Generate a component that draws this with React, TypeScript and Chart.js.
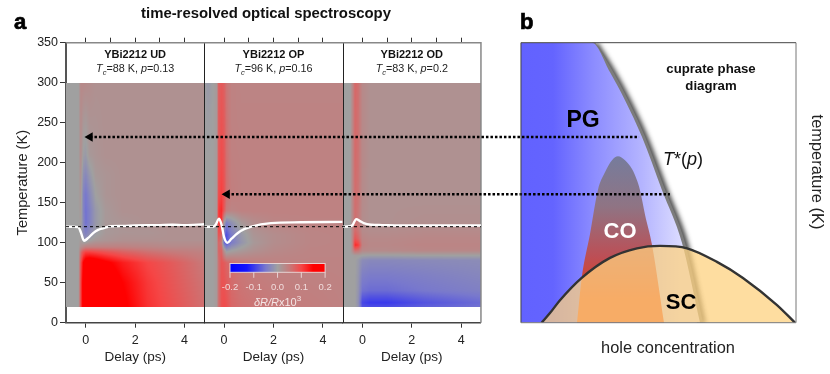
import React, { useEffect, useRef } from "react";
import { Chart, registerables } from "chart.js";

Chart.register(...registerables);

const FONT = '"Liberation Sans"';
const delayTicks = [0, 1, 2, 3, 4];
const tempTicks = [0, 50, 100, 150, 200, 250, 300, 350];
const colorbarTicks = [-0.2, -0.1, 0, 0.1, 0.2];
const colorStops: [number, number, number, number][] = [
  [-0.2, 0, 0, 255], [-0.13, 20, 20, 255], [-0.05, 120, 120, 205], [0, 160, 160, 160],
  [0.05, 198, 122, 122], [0.1, 245, 70, 70], [0.15, 255, 0, 0], [0.2, 255, 0, 0],
];

const udDelays = [-0.8, -0.3, -0.2, -0.1, 0, 0.15, 0.4, 0.8, 1.5, 2.5, 3.5, 4.8];
const udTemps = [20, 50, 75, 88, 95, 103, 112, 125, 140, 160, 185, 210, 300];
const udValues = [
  [0, 0, 0.1, 0.17, 0.2, 0.22, 0.22, 0.2, 0.16, 0.115, 0.09, 0.06],
  [0, 0, 0.1, 0.17, 0.2, 0.22, 0.21, 0.19, 0.15, 0.11, 0.085, 0.055],
  [0, 0, 0.09, 0.15, 0.18, 0.19, 0.18, 0.16, 0.13, 0.1, 0.08, 0.05],
  [0, 0, 0.06, 0.09, 0.105, 0.105, 0.1, 0.09, 0.075, 0.06, 0.05, 0.04],
  [0, 0, 0.02, 0.03, 0.04, 0.04, 0.04, 0.04, 0.04, 0.035, 0.03, 0.03],
  [0, 0, 0.005, -0.01, -0.015, 0, 0.01, 0.015, 0.02, 0.02, 0.02, 0.02],
  [0, 0, 0, -0.025, -0.04, -0.025, -0.005, 0.01, 0.015, 0.015, 0.02, 0.02],
  [0, 0, 0.005, -0.03, -0.055, -0.04, -0.01, 0.01, 0.015, 0.02, 0.02, 0.02],
  [0, 0, 0.01, -0.035, -0.055, -0.04, -0.01, 0.01, 0.02, 0.02, 0.02, 0.02],
  [0, 0, 0.015, -0.035, -0.05, -0.03, 0, 0.015, 0.02, 0.02, 0.02, 0.02],
  [0, 0, 0.02, -0.02, -0.03, -0.012, 0.01, 0.015, 0.02, 0.02, 0.02, 0.02],
  [0, 0, 0.025, -0.003, -0.008, 0.01, 0.015, 0.02, 0.02, 0.02, 0.02, 0.02],
  [0, 0, 0.03, 0.03, 0.028, 0.025, 0.02, 0.02, 0.02, 0.02, 0.02, 0.02],
];

const opDelays = [-0.8, -0.65, -0.45, -0.3, -0.22, -0.1, 0, 0.1, 0.3, 0.7, 1.2, 2, 3.5, 4.8];
const opTemps = [20, 75, 90, 100, 110, 125, 140, 160, 200, 250, 300];
const opValues = [
  [0, 0, 0, 0.01, 0.06, 0.09, 0.095, 0.09, 0.07, 0.06, 0.055, 0.05, 0.045, 0.04],
  [0, 0, 0, 0.01, 0.06, 0.085, 0.08, 0.07, 0.06, 0.05, 0.045, 0.04, 0.038, 0.038],
  [0, 0, 0, 0.01, 0.07, 0.07, 0.02, -0.01, 0, 0.01, 0.02, 0.03, 0.037, 0.037],
  [0, 0, 0, 0.01, 0.07, 0.05, -0.06, -0.08, -0.045, -0.015, 0.01, 0.025, 0.035, 0.037],
  [0, 0, 0, 0.01, 0.09, 0.07, -0.05, -0.08, -0.045, -0.01, 0.015, 0.025, 0.035, 0.037],
  [0, 0, 0, 0.01, 0.11, 0.11, 0, -0.04, -0.02, 0.01, 0.025, 0.035, 0.038, 0.038],
  [0, 0, 0, 0.01, 0.11, 0.12, 0.08, 0.045, 0.035, 0.04, 0.04, 0.04, 0.04, 0.04],
  [0, 0, 0, 0.01, 0.095, 0.105, 0.09, 0.06, 0.045, 0.04, 0.04, 0.04, 0.04, 0.04],
  [0, 0, 0, 0.01, 0.085, 0.095, 0.085, 0.06, 0.042, 0.04, 0.04, 0.04, 0.04, 0.04],
  [0, -0.003, 0, 0.01, 0.08, 0.088, 0.08, 0.058, 0.04, 0.038, 0.038, 0.038, 0.038, 0.038],
  [0, -0.01, 0, 0.01, 0.075, 0.082, 0.075, 0.055, 0.04, 0.037, 0.037, 0.037, 0.037, 0.037],
];

const odDelays = [-0.8, -0.5, -0.42, -0.3, -0.17, 0, 0.3, 1, 2.5, 4.8];
const odTemps = [20, 25, 40, 60, 78, 84, 90, 97, 105, 115, 125, 150, 200, 300];
const odValues = [
  [0, 0, 0, 0, -0.015, -0.08, -0.085, -0.085, -0.07, -0.055],
  [0, 0, 0, 0, -0.02, -0.09, -0.1, -0.1, -0.08, -0.06],
  [0, 0, 0, 0, -0.015, -0.055, -0.06, -0.06, -0.05, -0.04],
  [0, 0, 0, 0, -0.012, -0.04, -0.045, -0.045, -0.04, -0.032],
  [0, 0, 0, 0, -0.008, -0.025, -0.03, -0.03, -0.028, -0.025],
  [0, 0, 0, 0.005, 0.005, 0, -0.003, -0.003, 0, 0],
  [0, 0, 0.02, 0.06, 0.055, 0.03, 0.028, 0.028, 0.032, 0.032],
  [0, 0, 0.02, 0.12, 0.11, 0.04, 0.032, 0.032, 0.036, 0.036],
  [0, 0, 0.025, 0.085, 0.07, 0.035, 0.03, 0.03, 0.033, 0.033],
  [0, 0, 0.025, 0.065, 0.055, 0.028, 0.025, 0.025, 0.028, 0.028],
  [0, 0, 0.025, 0.06, 0.05, 0.025, 0.02, 0.02, 0.023, 0.023],
  [0, 0, 0.025, 0.062, 0.055, 0.028, 0.02, 0.02, 0.02, 0.02],
  [0, 0, 0.025, 0.065, 0.058, 0.03, 0.02, 0.02, 0.02, 0.02],
  [0, 0, 0.025, 0.068, 0.06, 0.03, 0.02, 0.02, 0.02, 0.02],
];

const udCurveDelay = [-0.8, -0.5, -0.3, -0.2, -0.07, 0.1, 0.3, 0.5, 0.7, 1, 1.5, 2, 3, 3.5, 4, 4.8];
const udCurve = [120, 120, 119.5, 113, 102.5, 106, 112, 116, 118, 120.5, 121, 121.5, 122, 122.5, 122, 123];
const opCurveDelay = [-0.8, -0.45, -0.35, -0.2, -0.1, 0, 0.13, 0.3, 0.67, 1.1, 1.9, 3.1, 4.8];
const opCurve = [120, 120, 122, 130, 122, 107, 100, 105, 114.5, 120, 124.5, 125.5, 126];
const odCurveDelay = [-0.8, -0.5, -0.4, -0.25, -0.1, 0.05, 0.35, 0.8, 1.5, 3, 4.8];
const odCurve = [120, 120.5, 122, 129.5, 127, 124.5, 122.5, 122, 121.5, 121.5, 121.5];
const baselineDelay = [-0.8, 16];
const baselineTemp = [120, 120];

const arrowUpperDelay = [0.17, 22.4];
const arrowUpperTemp = [232, 232];
const arrowLowerDelay = [0.12, 18.05];
const arrowLowerTemp = [160.5, 160.5];

const tStarP = [0.0937, 0.1094, 0.1224, 0.1372, 0.1545, 0.1719, 0.1876];
const tStarT = [350, 313, 278, 232, 166, 100, 0];
const coP = [0.0807, 0.0848, 0.092, 0.0989, 0.105, 0.1111, 0.1163, 0.1224, 0.1285, 0.1328, 0.1354, 0.1398, 0.1459, 0.1563];
const coT = [0, 56, 111, 166, 188, 203, 208, 203, 192, 178, 166, 135, 97, 0];
const scP = [0.05, 0.0572, 0.0659, 0.0848, 0.1094, 0.1328, 0.1528, 0.1763, 0.2023, 0.2249, 0.2545, 0.2701];
const scT = [0, 12, 28, 56, 81, 93, 96, 93, 76, 56, 22, 0];

const pts = (xs: number[], ys: number[]) => xs.map((x, i) => ({ x, y: ys[i] }));

function colorFor(v: number): [number, number, number] {
  if (v <= colorStops[0][0]) return [colorStops[0][1], colorStops[0][2], colorStops[0][3]];
  for (let i = 1; i < colorStops.length; i++) {
    const a = colorStops[i - 1], b = colorStops[i];
    if (v <= b[0]) {
      const t = (v - a[0]) / (b[0] - a[0]);
      return [a[1] + (b[1] - a[1]) * t, a[2] + (b[2] - a[2]) * t, a[3] + (b[3] - a[3]) * t];
    }
  }
  const l = colorStops[colorStops.length - 1];
  return [l[1], l[2], l[3]];
}

function locate(arr: number[], v: number): [number, number] {
  let i = 0;
  while (i < arr.length - 2 && v > arr[i + 1]) i++;
  const t = Math.min(1, Math.max(0, (v - arr[i]) / (arr[i + 1] - arr[i])));
  return [i, t];
}

function paintHeat(chart: any, xId: string, xs: number[], ts: number[], vals: number[][]) {
  const sx = chart.scales[xId], sy = chart.scales.y, ctx = chart.ctx;
  const x0 = Math.round(sx.left), x1 = Math.round(sx.right);
  const y0 = Math.round(sy.getPixelForValue(300)), y1 = Math.round(sy.getPixelForValue(19.5));
  const img = ctx.createImageData(x1 - x0, y1 - y0);
  for (let py = y0; py < y1; py++) {
    const [r, tr] = locate(ts, sy.getValueForPixel(py + 0.5));
    for (let px = x0; px < x1; px++) {
      const [c, tc] = locate(xs, sx.getValueForPixel(px + 0.5));
      const v = (vals[r][c] * (1 - tc) + vals[r][c + 1] * tc) * (1 - tr) +
        (vals[r + 1][c] * (1 - tc) + vals[r + 1][c + 1] * tc) * tr;
      const [R, G, B] = colorFor(v);
      const o = ((py - y0) * (x1 - x0) + (px - x0)) * 4;
      img.data[o] = R; img.data[o + 1] = G; img.data[o + 2] = B; img.data[o + 3] = 255;
    }
  }
  const off = document.createElement("canvas");
  off.width = x1 - x0; off.height = y1 - y0;
  off.getContext("2d")!.putImageData(img, 0, 0);
  ctx.drawImage(off, x0, y0);
}

type Run = { t: string; f: string; dy?: number };
function runs(ctx: any, items: Run[], cx: number, y: number, color: string) {
  ctx.fillStyle = color;
  ctx.textAlign = "left";
  ctx.textBaseline = "alphabetic";
  let w = 0;
  for (const r of items) { ctx.font = r.f; w += ctx.measureText(r.t).width; }
  let x = cx - w / 2;
  for (const r of items) {
    ctx.font = r.f;
    ctx.fillText(r.t, x, y + (r.dy || 0));
    x += ctx.measureText(r.t).width;
  }
}
function label(ctx: any, t: string, x: number, y: number, f: string, color: string) {
  ctx.font = f; ctx.fillStyle = color; ctx.textAlign = "center"; ctx.textBaseline = "middle";
  ctx.fillText(t, x, y);
}

const heatPlugin = {
  id: "heat",
  beforeDatasetsDraw(chart: any) {
    paintHeat(chart, "x1", udDelays, udTemps, udValues);
    paintHeat(chart, "x2", opDelays, opTemps, opValues);
    paintHeat(chart, "x3", odDelays, odTemps, odValues);
    const { ctx, scales } = chart;
    const y = scales.y;
    ctx.save();
    // colour bar, in panel 2 coordinates
    const bx0 = scales.x2.getPixelForValue(0.24), bx1 = scales.x2.getPixelForValue(4.09);
    const by0 = y.getPixelForValue(74), by1 = y.getPixelForValue(63);
    for (let px = Math.round(bx0); px < Math.round(bx1); px++) {
      const v = -0.2 + (0.4 * (px + 0.5 - bx0)) / (bx1 - bx0);
      const [r, g, b] = colorFor(v);
      ctx.fillStyle = `rgb(${r},${g},${b})`;
      ctx.fillRect(px, by0, 1, by1 - by0);
    }
    ctx.strokeStyle = "rgba(235,220,220,0.9)";
    ctx.lineWidth = 1;
    ctx.strokeRect(bx0, by0, bx1 - bx0, by1 - by0);
    for (const t of colorbarTicks) {
      const px = bx0 + ((t + 0.2) / 0.4) * (bx1 - bx0);
      ctx.beginPath(); ctx.moveTo(px, by1); ctx.lineTo(px, by1 + 5.5); ctx.stroke();
      label(ctx, t.toFixed(1), px, by1 + 15, `9.5px ${FONT}`, "#f0dcdc");
    }
    runs(ctx, [
      { t: "δR/R", f: `italic 11px ${FONT}` },
      { t: "x10", f: `11px ${FONT}` },
      { t: "3", f: `8px ${FONT}`, dy: -5 },
    ], (bx0 + bx1) / 2, by1 + 34, "#f4e6e6");
    // panel dividers and frame
    const top = y.getPixelForValue(350), bot = y.getPixelForValue(0);
    ctx.strokeStyle = "#222";
    ctx.lineWidth = 1;
    for (const id of ["x2", "x3"]) {
      const px = Math.round(scales[id].left) + 0.5;
      ctx.beginPath(); ctx.moveTo(px, top); ctx.lineTo(px, bot); ctx.stroke();
    }
    ctx.strokeStyle = "#888";
    ctx.lineWidth = 1.5;
    ctx.beginPath();
    ctx.moveTo(scales.x1.left, top);
    ctx.lineTo(scales.x3.right, top);
    ctx.lineTo(scales.x3.right, bot);
    ctx.stroke();
    ctx.restore();
  },
  beforeDatasetDraw(chart: any, args: any) {
    const ds = chart.data.datasets[args.index];
    if (ds.label === "T* band") {
      const c = chart.ctx;
      c.save();
      c.shadowColor = "rgba(40,40,40,0.95)";
      c.shadowBlur = 5;
      c.shadowOffsetX = 3;
      c.shadowOffsetY = 1;
    }
  },
  afterDatasetDraw(chart: any, args: any) {
    const ds = chart.data.datasets[args.index];
    if (ds.label === "T* band") chart.ctx.restore();
  },
  afterDatasetsDraw(chart: any) {
    const { ctx, scales } = chart;
    const xb = scales.xb, y = scales.y;
    ctx.save();
    ctx.lineWidth = 1;
    const L = xb.left, R = xb.right, T = y.getPixelForValue(350), B = y.getPixelForValue(0);
    ctx.strokeStyle = "#444";
    ctx.beginPath(); ctx.moveTo(L, B); ctx.lineTo(L, T); ctx.lineTo(R, T); ctx.stroke();
    ctx.strokeStyle = "#777";
    ctx.beginPath(); ctx.moveTo(R, T); ctx.lineTo(R, B); ctx.lineTo(L, B); ctx.stroke();

    label(ctx, "time-resolved optical spectroscopy", 266, 13.5, `bold 14.9px ${FONT}`, "#111");
    ctx.fillStyle = "#000"; ctx.strokeStyle = "#000"; ctx.lineWidth = 0.7;
    ctx.textAlign = "left"; ctx.textBaseline = "alphabetic";
    ctx.font = `bold 22px ${FONT}`;
    ctx.fillText("a", 14, 29); ctx.strokeText("a", 14, 29);
    ctx.fillText("b", 520, 29); ctx.strokeText("b", 520, 29);

    const heads: [string, string, string, string][] = [
      ["x1", "YBi2212 UD", "=88 K, ", "=0.13"],
      ["x2", "YBi2212 OP", "=96 K, ", "=0.16"],
      ["x3", "YBi2212 OD", "=83 K, ", "=0.2"],
    ];
    for (const [id, name, tc, p] of heads) {
      const cx = (scales[id].left + scales[id].right) / 2;
      label(ctx, name, cx, 55, `bold 11px ${FONT}`, "#111");
      runs(ctx, [
        { t: "T", f: `italic 10.8px ${FONT}` },
        { t: "c", f: `italic 7.5px ${FONT}`, dy: 2.5 },
        { t: tc, f: `10.8px ${FONT}` },
        { t: "p", f: `italic 10.8px ${FONT}` },
        { t: p, f: `10.8px ${FONT}` },
      ], cx, 72, "#222");
    }

    label(ctx, "PG", 583, 121, `bold 23px ${FONT}`, "#000");
    label(ctx, "CO", 620, 232, `bold 22px ${FONT}`, "#fff");
    label(ctx, "SC", 681, 303, `bold 22px ${FONT}`, "#000");
    label(ctx, "cuprate phase", 711, 69, `bold 13.2px ${FONT}`, "#111");
    label(ctx, "diagram", 711, 86, `bold 13.2px ${FONT}`, "#111");
    runs(ctx, [
      { t: "T", f: `italic 18px ${FONT}` },
      { t: "*(", f: `18px ${FONT}` },
      { t: "p", f: `italic 18px ${FONT}` },
      { t: ")", f: `18px ${FONT}` },
    ], 683, 165, "#111");
    label(ctx, "hole concentration", 668, 348, `16.4px ${FONT}`, "#222");
    ctx.translate(817, 172);
    ctx.rotate(Math.PI / 2);
    label(ctx, "temperature (K)", 0, 0, `16.4px ${FONT}`, "#222");
    ctx.restore();
  },
};

const fixedHeight = (h: number) => (s: any) => { s.height = h; s.paddingLeft = 0; s.paddingRight = 0; };
const fixedWidth = (w: number) => (s: any) => { s.width = w; s.paddingTop = 0; s.paddingBottom = 0; };
const setDelayTicks = (s: any) => { s.ticks = delayTicks.map((value) => ({ value })); };

const delayAxis = (weight: number) => ({
  type: "linear", axis: "x", position: "bottom", stack: "bottom", stackWeight: 138.3, weight,
  min: -0.8, max: 4.8, afterBuildTicks: setDelayTicks, afterFit: fixedHeight(51.3),
  border: { color: "#444", width: 1.5 },
  grid: { drawOnChartArea: false, color: "#333", tickLength: 5 },
  ticks: { font: { family: FONT, size: 12.5 }, color: "#222", maxRotation: 0, padding: 5 },
  title: { display: true, text: "Delay (ps)", font: { family: FONT, size: 13.5 }, color: "#222", padding: { top: 0, bottom: 9 } },
});
const topAxis = (weight: number) => ({
  type: "linear", axis: "x", position: "top", stack: "top", stackWeight: 138.3, weight,
  min: -0.8, max: 4.8, afterBuildTicks: setDelayTicks, afterFit: fixedHeight(5),
  border: { display: false },
  grid: { drawOnChartArea: false, color: "#333", tickLength: 5 },
  ticks: { display: false },
});

export default function App() {
  const ref = useRef<HTMLCanvasElement>(null);
  useEffect(() => {
    document.body.style.margin = "0";
    const hBlue = (ctx: any) => {
      const s = ctx.chart.scales.xb;
      const x1 = s ? s.getPixelForValue(0.1719) : NaN;
      if (!s || !isFinite(s.left) || !isFinite(x1)) return "#6666ff";
      const g = ctx.chart.ctx.createLinearGradient(s.left, 0, x1, 0);
      g.addColorStop(0, "#6262ff");
      g.addColorStop(0.2, "#6464ff");
      g.addColorStop(0.45, "#8c8cff");
      g.addColorStop(0.75, "#b4b4ff");
      g.addColorStop(1, "#dcdcff");
      return g;
    };
    const vCo = (ctx: any) => {
      const s = ctx.chart.scales.yb;
      const y0 = s ? s.getPixelForValue(208) : NaN;
      const y1 = s ? s.getPixelForValue(30) : NaN;
      if (!isFinite(y0) || !isFinite(y1)) return "#90708a";
      const g = ctx.chart.ctx.createLinearGradient(0, y0, 0, y1);
      g.addColorStop(0, "#767c9c");
      g.addColorStop(0.35, "#8f7484");
      g.addColorStop(0.7, "#bc4f56");
      g.addColorStop(1, "#e23c1a");
      return g;
    };
    const line = { showLine: true, pointRadius: 0, cubicInterpolationMode: "monotone", fill: false };
    const curve = (id: string, xs: number[], ys: number[]) => ({
      ...line, label: `curve ${id}`, xAxisID: id, yAxisID: "y", data: pts(xs, ys),
      borderColor: "#fff", borderWidth: 2.4, order: 5,
    });
    const arrow = (id: string, xs: number[], ys: number[]) => ({
      showLine: true, label: `arrow ${id}`, xAxisID: id, yAxisID: "y", data: pts(xs, ys),
      borderColor: "#000", borderWidth: 2.5, borderDash: [2.5, 2], order: 1, clip: false,
      pointRadius: [5.5, 0], pointStyle: "triangle", pointRotation: -90, pointBackgroundColor: "#000", pointBorderWidth: 0,
    });
    const chart = new Chart(ref.current!, {
      type: "scatter",
      data: {
        datasets: [
          arrow("x1", arrowUpperDelay, arrowUpperTemp),
          arrow("x2", arrowLowerDelay, arrowLowerTemp),
          { ...line, label: "baseline", xAxisID: "x1", yAxisID: "y", data: pts(baselineDelay, baselineTemp), borderColor: "#000", borderWidth: 1, borderDash: [3, 3], order: 4, clip: false },
          curve("x1", udCurveDelay, udCurve),
          curve("x2", opCurveDelay, opCurve),
          curve("x3", odCurveDelay, odCurve),
          { ...line, label: "SC", xAxisID: "xb", yAxisID: "yb", data: pts(scP, scT), fill: "origin", backgroundColor: "rgba(253,210,128,0.75)", borderColor: "#333", borderWidth: 2.4, order: 7 },
          { ...line, label: "CO", xAxisID: "xb", yAxisID: "yb", data: pts(coP, coT), fill: "origin", backgroundColor: vCo, borderWidth: 0, order: 8 },
          { ...line, label: "PG", xAxisID: "xb", yAxisID: "yb", data: pts([0.032, ...tStarP], [350, ...tStarT]), fill: "origin", backgroundColor: hBlue, borderWidth: 0, order: 9 },
          { ...line, label: "T* band", xAxisID: "xb", yAxisID: "yb", data: pts(tStarP, tStarT), borderColor: "#7c7c7c", borderWidth: 6, order: 10 },
        ],
      } as any,
      plugins: [heatPlugin],
      options: {
        animation: false,
        responsive: false,
        layout: { padding: { top: 37.7, left: 0, right: 0, bottom: 0 } },
        plugins: { legend: { display: false }, tooltip: { enabled: false } },
        scales: {
          x1: delayAxis(0), x2: delayAxis(1), x3: delayAxis(2),
          gap: { type: "linear", axis: "x", position: "bottom", stack: "bottom", stackWeight: 40, weight: 3, display: false },
          xb: { type: "linear", axis: "x", position: "bottom", stack: "bottom", stackWeight: 275, weight: 4, min: 0.032, max: 0.271, afterFit: fixedHeight(51.3), border: { display: false }, grid: { display: false }, ticks: { display: false } },
          t1: topAxis(3), t2: topAxis(2), t3: topAxis(1),
          tRest: { type: "linear", axis: "x", position: "top", stack: "top", stackWeight: 315, weight: 0, display: false },
          y: {
            type: "linear", axis: "y", position: "left", min: 0, max: 350,
            afterBuildTicks: (s: any) => { s.ticks = tempTicks.map((value) => ({ value })); },
            afterFit: fixedWidth(66),
            border: { color: "#555", width: 2 },
            grid: { drawOnChartArea: false, color: "#333", tickLength: 6 },
            ticks: { font: { family: FONT, size: 12.5 }, color: "#222", padding: 2 },
            title: { display: true, text: "Temperature (K)", font: { family: FONT, size: 14.6 }, color: "#222", padding: { top: 14, bottom: 0 } },
          },
          yb: { type: "linear", axis: "y", position: "right", min: 0, max: 350, afterFit: fixedWidth(34), border: { display: false }, grid: { display: false }, ticks: { display: false } },
        },
      } as any,
    });
    return () => chart.destroy();
  }, []);
  return <canvas ref={ref} width={830} height={374} style={{ position: "absolute", left: 0, top: 0, display: "block" }} />;
}
